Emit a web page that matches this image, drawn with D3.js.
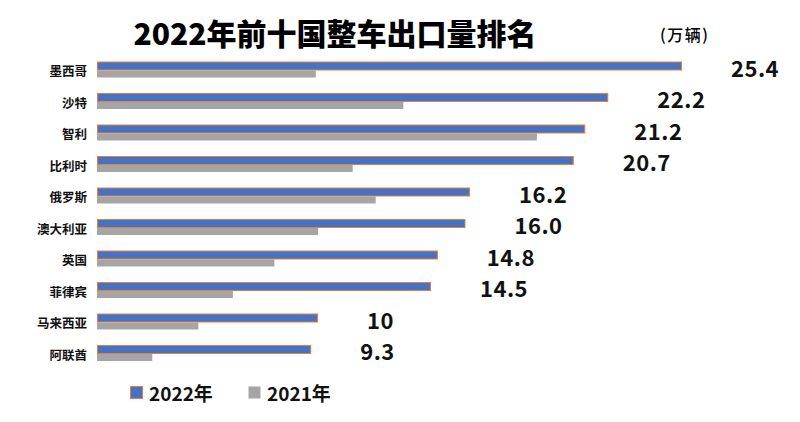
<!DOCTYPE html>
<html><head><meta charset="utf-8">
<script src="https://cdn.jsdelivr.net/npm/d3@7"></script>
<style>body{margin:0;background:#fff}svg{display:block}</style>
</head><body>
<script>
const countries = ["墨西哥","沙特","智利","比利时","俄罗斯","澳大利亚","英国","菲律宾","马来西亚","阿联酋"];
const values2022 = [25.4,22.2,21.2,20.7,16.2,16.0,14.8,14.5,9.6,9.3];
const labels2022 = ["25.4","22.2","21.2","20.7","16.2","16.0","14.8","14.5","10","9.3"];
const values2021 = [9.5,13.3,19.1,11.1,12.1,9.6,7.7,5.9,4.4,2.4];
const seriesNames = ["2022年","2021年"];
const title = "2022年前十国整车出口量排名";
const unit = "(万辆)";

const W = 800, H = 422;
const font = "'Noto Sans CJK SC','Microsoft YaHei',sans-serif";
const svg = d3.select("body").append("svg").attr("width", W).attr("height", H)
  .style("font-family", font);

const x = d3.scaleLinear().domain([0, 25.4]).range([97, 682]);
const y = d3.scaleBand().domain(countries).range([54.75, 369.75]);
const bw = y.bandwidth();

svg.append("text").attr("x", 335).attr("y", 32).attr("text-anchor", "middle")
  .attr("dominant-baseline", "central").attr("font-size", 30).attr("font-weight", 900)
  .attr("fill", "#000").text(title);
svg.append("text").attr("x", 660).attr("y", 34)
  .attr("dominant-baseline", "central").attr("font-size", 16).attr("font-weight", 500)
  .attr("letter-spacing", 1.5).attr("fill", "#000").text(unit);

const g = svg.append("g");
countries.forEach((c, i) => {
  const cy = y(c) + bw / 2;
  g.append("rect").attr("x", x(0)).attr("y", cy).attr("width", x(values2021[i]) - x(0))
    .attr("height", 7).attr("fill", "#A5A5A5");
  g.append("rect").attr("x", x(0) + 0.5).attr("y", cy - 8.5).attr("width", x(values2022[i]) - x(0) - 1)
    .attr("height", 8).attr("fill", "#4472C4").attr("stroke", "#ED7D31").attr("stroke-width", 1);
  g.append("text").attr("x", 87).attr("y", cy).attr("text-anchor", "end")
    .attr("dominant-baseline", "central").attr("font-size", 12.5).attr("font-weight", 700)
    .attr("fill", "#111").text(c);
  g.append("text").attr("x", x(values2022[i]) + 49).attr("y", cy - 4)
    .attr("dominant-baseline", "central").attr("font-size", 22).attr("font-weight", 700)
    .attr("letter-spacing", 0.5).attr("fill", "#111").text(labels2022[i]);
});

const legend = [
  {name: seriesNames[0], fill: "#4472C4", stroke: "#ED7D31", x: 130},
  {name: seriesNames[1], fill: "#A5A5A5", stroke: "none", x: 248}
];
legend.forEach(l => {
  svg.append("rect").attr("x", l.x + 0.5).attr("y", 386.5).attr("width", 12).attr("height", 12)
    .attr("fill", l.fill).attr("stroke", l.stroke);
  svg.append("text").attr("x", l.x + 19).attr("y", 392)
    .attr("dominant-baseline", "central").attr("font-size", 19).attr("font-weight", 700)
    .attr("fill", "#111").text(l.name);
});
</script>
</body></html>
